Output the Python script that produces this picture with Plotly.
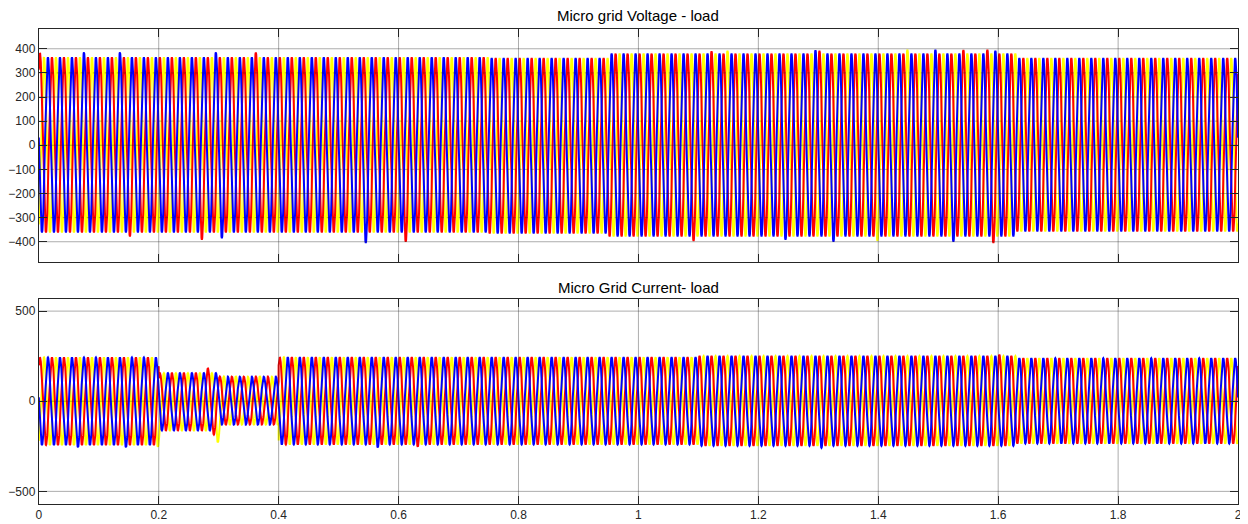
import numpy as np
import plotly.graph_objects as go

# ---------------- data ----------------
FREQ_HZ = 50.0
T_END = 2.0
SAMPLE_RATE = 10000

phase_names = ["Phase A", "Phase B", "Phase C"]
phase_colors = ["#FFFF00", "#FF0000", "#0000FF"]
phase_angle_deg = [-155.0, -35.0, 85.0]

# Voltage envelope (positive / negative peak per time segment)
v_seg_start = [0.0, 0.75, 0.95, 1.63]
v_seg_end = [0.75, 0.95, 1.63, 2.01]
v_seg_pos = [365, 362, 380, 362]
v_seg_neg = [-362, -366, -378, -358]

# Individual voltage peaks that stand out (time, phase index, peak value)
v_event_time = [0.0, 0.078, 0.138, 0.296, 0.364, 0.155, 0.275, 0.308, 0.548, 0.614,
                1.092, 1.123, 1.150, 1.247, 1.297, 1.305, 1.330, 1.404, 1.451, 1.497,
                1.528, 1.545, 1.583, 1.594, 1.600]
v_event_phase = [1, 2, 2, 2, 1, 1, 1, 2, 2, 1,
                 1, 1, 0, 2, 2, 1, 2, 0, 0, 2,
                 2, 1, 1, 1, 2]
v_event_peak = [382, 385, 385, 385, 385, -378, -392, -386, -405, -400,
                -397, 390, 392, -392, 394, 392, -400, -396, 396, 396,
                -400, 395, 396, -405, 392]

# Current envelope segments
i_seg_start = [0.0, 0.2, 0.3, 0.4, 1.1, 1.63]
i_seg_end = [0.2, 0.3, 0.4, 1.1, 1.63, 2.01]
i_seg_pos = [243, 156, 137, 244, 251, 239]
i_seg_neg = [-243, -162, -130, -240, -247, -235]

i_event_time = [0.072, 0.149, 0.199, 0.280, 0.292, 0.303, 0.568, 0.636, 1.300, 1.600]
i_event_phase = [2, 2, 0, 1, 1, 0, 2, 1, 2, 1]
i_event_peak = [-255, -255, -252, 182, -185, -228, -256, -252, -258, 258]

x_tick_vals = [0, 0.2, 0.4, 0.6, 0.8, 1, 1.2, 1.4, 1.6, 1.8, 2]
x_tick_text = ["0", "0.2", "0.4", "0.6", "0.8", "1", "1.2", "1.4", "1.6", "1.8", "2"]
v_tick_vals = [-400, -300, -200, -100, 0, 100, 200, 300, 400]
i_tick_vals = [-500, 0, 500]

title_voltage = "Micro grid Voltage - load"
title_current = "Micro Grid Current- load"

# ---------------- waveform construction ----------------
t = np.arange(0, T_END + 1e-9, 1.0 / SAMPLE_RATE)
w = 2 * np.pi * FREQ_HZ


def build(phase_idx, seg_start, seg_end, seg_pos, seg_neg, ev_t, ev_p, ev_v):
    phi = np.deg2rad(phase_angle_deg[phase_idx])
    theta = w * t + phi
    c = np.cos(theta)
    amp = np.zeros_like(t)
    for s, e, p, n in zip(seg_start, seg_end, seg_pos, seg_neg):
        m = (t >= s) & (t < e)
        amp[m] = np.where(c[m] >= 0, p, -n)
    half = np.floor((theta + np.pi / 2) / np.pi)
    for te, pi_, val in zip(ev_t, ev_p, ev_v):
        if pi_ != phase_idx:
            continue
        th_e = w * te + phi
        k = int(np.round(th_e / np.pi))
        want_even = val > 0
        if (k % 2 == 0) != want_even:
            k = k + 1 if (th_e / np.pi) > k else k - 1
        amp[half == k] = abs(val)
    return amp * c


fig = go.Figure()
for idx in range(3):
    v = build(idx, v_seg_start, v_seg_end, v_seg_pos, v_seg_neg,
              v_event_time, v_event_phase, v_event_peak)
    fig.add_trace(go.Scatter(x=t, y=v, mode="lines", name=phase_names[idx],
                             line=dict(color=phase_colors[idx], width=2),
                             xaxis="x", yaxis="y", showlegend=False,
                             hoverinfo="skip"))
for idx in range(3):
    i = build(idx, i_seg_start, i_seg_end, i_seg_pos, i_seg_neg,
              i_event_time, i_event_phase, i_event_peak)
    fig.add_trace(go.Scatter(x=t, y=i, mode="lines", name=phase_names[idx],
                             line=dict(color=phase_colors[idx], width=2),
                             xaxis="x2", yaxis="y2", showlegend=False,
                             hoverinfo="skip"))

# The page body has an 8 px margin, so the figure is placed 8 px in from the corner.
OFF = 8
W, H = 1240, 516


def px_x(x):
    return (x - OFF) / W


def px_y(y):
    return 1 - (y - OFF) / H


xdom = [px_x(33), px_x(1242)]
ydom_top = [px_y(262), px_y(28.5)]
ydom_bot = [px_y(504), px_y(298.5)]

axis_line = "#262626"
grid_col = "rgba(40,40,40,0.38)"
font_tick = dict(family="Liberation Sans, Arial, sans-serif", size=12, color="#262626")
font_title = dict(family="Liberation Sans, Arial, sans-serif", size=15, color="#000000")

common_x = dict(range=[0, 2], tickvals=x_tick_vals, ticktext=x_tick_text,
                showgrid=False, zeroline=False,
                showline=True, linecolor=axis_line, linewidth=1, mirror="ticks",
                ticks="inside", ticklen=8, tickcolor=axis_line, tickfont=font_tick,
                domain=xdom, fixedrange=True)

# grid lines drawn on top of the data, as in the reference
shapes = []
for val in v_tick_vals:
    shapes.append(dict(type="line", xref="x domain", yref="y", x0=0, x1=1, y0=val, y1=val,
                       layer="above",
                       line=dict(color=grid_col, width=1,
                                 dash="solid" if val % 200 == 0 else "dot")))
for val in i_tick_vals:
    shapes.append(dict(type="line", xref="x2 domain", yref="y2", x0=0, x1=1, y0=val, y1=val,
                       layer="above", line=dict(color=grid_col, width=1)))
for xv in x_tick_vals[1:-1]:
    shapes.append(dict(type="line", xref="x", yref="y domain", x0=xv, x1=xv, y0=0, y1=1,
                       layer="above", line=dict(color=grid_col, width=1)))
    shapes.append(dict(type="line", xref="x2", yref="y2 domain", x0=xv, x1=xv, y0=0, y1=1,
                       layer="above", line=dict(color=grid_col, width=1)))

fig.update_layout(
    width=W, height=H,
    margin=dict(l=0, r=0, t=0, b=0),
    paper_bgcolor="white", plot_bgcolor="white",
    xaxis=dict(common_x, anchor="y", showticklabels=False),
    yaxis=dict(domain=ydom_top, range=[-484, 484], tickvals=v_tick_vals,
               showgrid=False, zeroline=False, showline=True, linecolor=axis_line,
               linewidth=1, mirror="ticks", ticks="inside", ticklen=8,
               tickcolor=axis_line, tickfont=font_tick, anchor="x", fixedrange=True),
    xaxis2=dict(common_x, anchor="y2", showticklabels=True),
    yaxis2=dict(domain=ydom_bot, range=[-570, 570], tickvals=i_tick_vals,
                showgrid=False, zeroline=False, showline=True, linecolor=axis_line,
                linewidth=1, mirror="ticks", ticks="inside", ticklen=8,
                tickcolor=axis_line, tickfont=font_tick, anchor="x2", fixedrange=True),
    shapes=shapes,
    annotations=[
        dict(text=title_voltage, x=(xdom[0] + xdom[1]) / 2, y=px_y(15),
             xref="paper", yref="paper", showarrow=False, xanchor="center", yanchor="middle",
             font=font_title),
        dict(text=title_current, x=(xdom[0] + xdom[1]) / 2, y=px_y(287),
             xref="paper", yref="paper", showarrow=False, xanchor="center", yanchor="middle",
             font=font_title),
    ],
)

fig.write_html("out.html")
